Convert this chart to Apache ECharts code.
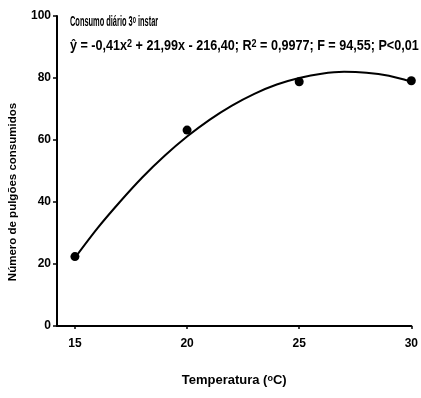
<!DOCTYPE html>
<html>
<head>
<meta charset="utf-8">
<script src="https://cdn.jsdelivr.net/npm/echarts@6/dist/echarts.min.js"></script>
<style>
  html, body { margin: 0; padding: 0; background: #fff; }
  #chart { width: 421px; height: 398px; }
</style>
</head>
<body>
<div id="chart"></div>
<script>
  // observed points (temperature, aphids eaten)
  const temps = [15, 20, 25, 30];
  const consumed = [22.4, 63.2, 78.8, 79.1];
  // fitted curve
  const curveX = [15, 16, 17, 18, 19, 20, 21, 22, 23, 24, 25, 26, 27, 28, 29, 30];
  const curveY = [22, 31.5, 40, 47.9, 54.9, 61.1, 66.5, 71.1, 74.9, 77.9, 80, 81.4, 82, 81.7, 80.7, 78.8];
  const xTicks = [15, 20, 25, 30];

  const font = '"Liberation Sans", Arial, sans-serif';

  const chart = echarts.init(document.getElementById('chart'));
  chart.setOption({
    animation: false,
    grid: { left: 57, right: 9, top: 16, bottom: 72 },
    xAxis: {
      type: 'value',
      min: 14.2,
      max: 30,
      name: 'Temperatura ({s|o}C)',
      nameLocation: 'middle',
      nameGap: 48,
      nameTextStyle: {
        color: '#000', fontFamily: font, fontSize: 13, fontWeight: 'bold',
        rich: { s: { fontSize: 9, fontFamily: font, fontWeight: 'bold', verticalAlign: 'top', color: '#000' } }
      },
      splitLine: { show: false },
      axisLine: { lineStyle: { color: '#000', width: 2 } },
      axisTick: { customValues: xTicks, length: 3, lineStyle: { color: '#000', width: 1.5 } },
      axisLabel: {
        customValues: xTicks, margin: 12,
        color: '#000', fontFamily: font, fontSize: 12, fontWeight: 'bold'
      }
    },
    yAxis: {
      type: 'value',
      min: 0,
      max: 100,
      interval: 20,
      splitLine: { show: false },
      axisLine: { show: true, lineStyle: { color: '#000', width: 2 } },
      axisTick: { show: true, length: 4, lineStyle: { color: '#000', width: 1.5 } },
      axisLabel: {
        margin: 6, color: '#000', fontFamily: font, fontSize: 12, fontWeight: 'bold'
      }
    },
    graphic: [
      {
        type: 'text', x: 13, y: 192, rotation: Math.PI / 2,
        style: {
          text: 'Número de pulgões consumidos',
          fill: '#000', font: 'bold 11.5px ' + font,
          align: 'center', verticalAlign: 'middle'
        }
      },
      {
        type: 'text', x: 70, y: 15, scaleX: 0.53,
        style: {
          text: '{a|Consumo diário 3}{s|o}{a| instar}',
          rich: {
            a: { fontFamily: font, fontSize: 14, fontWeight: 'bold', fill: '#000' },
            s: { fontFamily: font, fontSize: 10, fontWeight: 'bold', fill: '#000', verticalAlign: 'top' }
          }
        }
      },
      {
        type: 'text', x: 70, y: 39, scaleX: 0.9,
        style: {
          text: '{a|ŷ = -0,41x}{s|2}{a| + 21,99x - 216,40; R}{s|2}{a| = 0,9977; F = 94,55; P<0,01}',
          rich: {
            a: { fontFamily: font, fontSize: 14, fontWeight: 'bold', fill: '#000' },
            s: { fontFamily: font, fontSize: 10, fontWeight: 'bold', fill: '#000', verticalAlign: 'top' }
          }
        }
      }
    ],
    series: [
      {
        type: 'line',
        data: curveX.map((x, i) => [x, curveY[i]]),
        smooth: 0.3,
        showSymbol: false,
        lineStyle: { color: '#000', width: 2 },
        z: 2
      },
      {
        type: 'scatter',
        data: temps.map((t, i) => [t, consumed[i]]),
        symbol: 'circle',
        symbolSize: 9,
        itemStyle: { color: '#000', opacity: 1 },
        z: 3
      }
    ]
  });
</script>
</body>
</html>
